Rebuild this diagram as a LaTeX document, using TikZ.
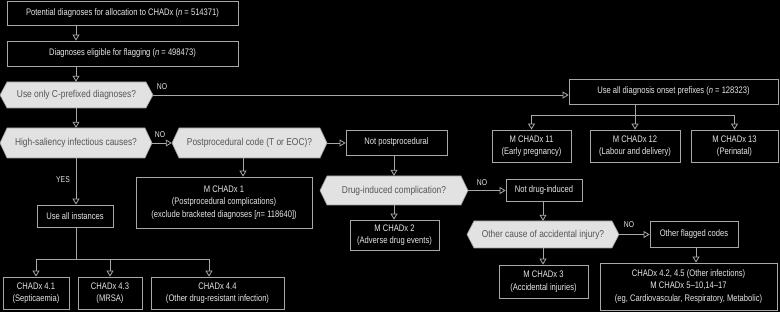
\documentclass[tikz,border=0pt]{standalone}
\usepackage{fontspec}
\setmainfont{Liberation Sans}[FakeStretch=0.8]
\newfontfamily\hexfont{Liberation Sans}[FakeStretch=0.84]
\usetikzlibrary{arrows.meta}
\definecolor{bg}{HTML}{000000}
\definecolor{ln}{HTML}{A8A8A8}
\definecolor{tx}{HTML}{E6E6E6}
\definecolor{hxfill}{HTML}{E2E2E2}
\definecolor{hxtext}{HTML}{555555}
\definecolor{hxline}{HTML}{9A9A9A}
\tikzset{
  box/.style={draw=ln, line width=0.8pt, text=tx, align=center, inner sep=1pt, font=\fontsize{9.5}{12.5}\selectfont},
  hexn/.style={inner sep=0pt, text=hxtext, font=\hexfont\fontsize{10}{12}\selectfont},
  conn/.style={draw=ln, line width=0.8pt},
  arr/.style={conn, -{Triangle[open, length=6pt, width=7pt]}},
  lbl/.style={text=tx, font=\fontsize{8.5}{10}\selectfont, inner sep=0pt},
}
\newcommand{\bx}[6]{\node[box, minimum width={(#4)-(#2)}, minimum height={(#5)-(#3)}] (#1) at ({((#2)+(#4))/2},{((#3)+(#5))/2}) {#6};}
\newcommand{\hx}[6]{%
  \fill[hxfill, draw=hxline, line width=0.6pt] (#2,{((#3)+(#5))/2}) -- ({(#2)+7},#3) -- ({(#4)-7},#3) -- (#4,{((#3)+(#5))/2}) -- ({(#4)-7},#5) -- ({(#2)+7},#5) -- cycle;
  \node[hexn, minimum width={(#4)-(#2)}, minimum height={(#5)-(#3)}] (#1) at ({((#2)+(#4))/2},{((#3)+(#5))/2}) {#6};}
\begin{document}
\begin{tikzpicture}[x=1pt, y=-1pt]
\fill[bg] (0,0) rectangle (780,312);
\useasboundingbox (0,0) rectangle (780,312);
% boxes
\bx{b1}{7}{1}{238}{25}{Potential diagnoses for allocation to CHADx (\textit{n} = 514371)}
\bx{b2}{7}{41}{238}{66}{Diagnoses eligible for flagging (\textit{n} = 498473)}
\hx{hA}{0}{82}{153}{108}{Use only C-prefixed diagnoses?}
\bx{bOn}{569}{79}{778}{104}{Use all diagnosis onset prefixes (\textit{n} = 128323)}
\bx{b11}{492}{130}{571}{162}{M CHADx 11\\(Early pregnancy)}
\bx{b12}{590}{130}{680}{162}{M CHADx 12\\(Labour and delivery)}
\bx{b13}{691}{130}{778}{162}{M CHADx 13\\(Perinatal)}
\hx{hB}{0}{128}{152}{158}{High-saliency infectious causes?}
\hx{hC}{172}{128}{327}{158}{Postprocedural code (T or EOC)?}
\bx{bNP}{346}{130}{447}{155}{Not postprocedural}
\bx{bC1}{136}{177}{312}{228}{M CHADx 1\\(Postprocedural complications)\\(exclude bracketed diagnoses [\textit{n}= 118640])}
\bx{bUA}{37}{205}{113}{227}{Use all instances}
\bx{b41}{3}{277}{69}{309}{CHADx 4.1\\(Septicaemia)}
\bx{b43}{78}{277}{142}{309}{CHADx 4.3\\(MRSA)}
\bx{b44}{151}{277}{284}{309}{CHADx 4.4\\(Other drug-resistant infection)}
\hx{hD}{320}{176}{468}{205}{Drug-induced complication?}
\bx{bND}{506}{179}{582}{201}{Not drug-induced}
\bx{bC2}{350}{220}{439}{250}{M CHADx 2\\(Adverse drug events)}
\hx{hE}{467}{221}{619}{248}{Other cause of accidental injury?}
\bx{bOF}{650}{221}{738}{247}{Other flagged codes}
\bx{bC3}{499}{265}{588}{298}{M CHADx 3\\(Accidental injuries)}
\bx{bBig}{600}{263}{777}{310}{CHADx 4.2, 4.5 (Other infections)\\M CHADx 5--10,14--17\\(eg, Cardiovascular, Respiratory, Metabolic)}
% connectors
\draw[arr] (b1.south -| 76,0) -- (b2.north -| 76,0);
\draw[arr] (b2.south -| 76,0) -- (hA.north -| 76,0);
\draw[arr] (hA.south -| 76,0) -- (hB.north -| 76,0);
\draw[arr] (hA.east) -- (hA.east -| bOn.west);
\draw[conn] (bOn.south -| b12.north) -- (b12.north |- 0,115) coordinate (j1);
\draw[conn] (b11.north |- j1) -- (b13.north |- j1);
\draw[arr] (b11.north |- j1) -- (b11.north);
\draw[arr] (j1) -- (b12.north);
\draw[arr] (b13.north |- j1) -- (b13.north);
\draw[arr] (hB.east) -- (hC.west);
\draw[arr] (hC.east) -- (hC.east -| bNP.west);
\draw[arr] (hC.south -| 243,0) -- (bC1.north -| 243,0);
\draw[arr] (hB.south -| 76,0) -- (bUA.north -| 76,0);
\draw[conn] (bUA.south -| 76,0) -- (76,259) coordinate (j2);
\draw[conn] (b41.north |- j2) -- (209,259);
\draw[arr] (b41.north |- j2) -- (b41.north);
\draw[arr] (b43.north |- j2) -- (b43.north);
\draw[arr] (209,259) -- (b44.north -| 209,0);
\draw[arr] (bNP.south -| hD.north) -- (hD.north);
\draw[arr] (hD.east) -- (hD.east -| bND.west);
\draw[arr] (hD.south) -- (hD.south |- bC2.north);
\draw[arr] (bND.south -| hE.north) -- (hE.north);
\draw[arr] (hE.east) -- (hE.east -| bOF.west);
\draw[arr] (hE.south) -- (hE.south |- bC3.north);
\draw[arr] (bOF.south -| 696,0) -- (bBig.north -| 696,0);
% labels
\node[lbl] (nA) at (162,87) {NO};
\node[lbl] (nB) at (160,135) {NO};
\node[lbl] (yB) at (63,180) {YES};
\node[lbl] (nD) at (482,183) {NO};
\node[lbl] (nE) at (629,225) {NO};
\end{tikzpicture}
\end{document}
